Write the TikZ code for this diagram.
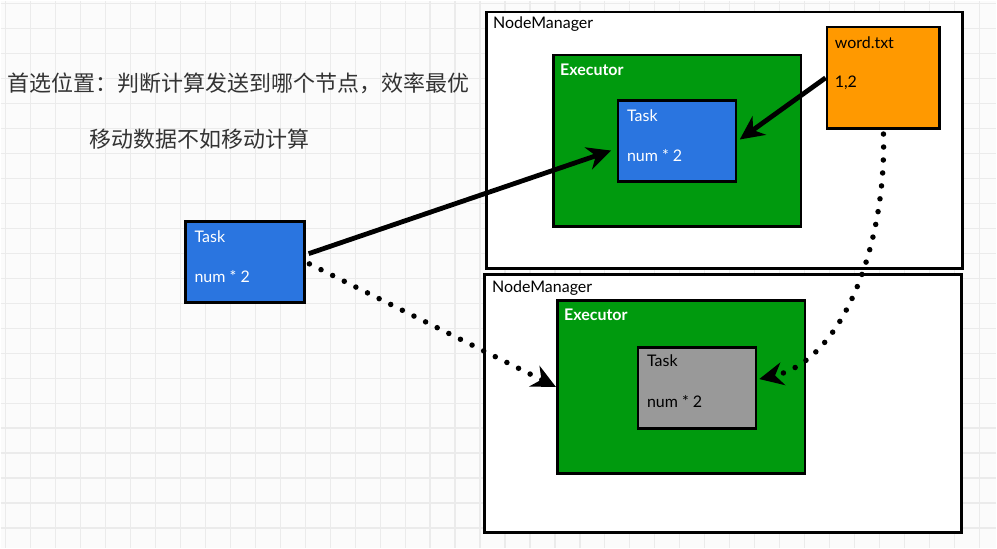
\documentclass[tikz,border=0pt]{standalone}
\usepackage{fontspec}
\setmainfont{Lato}
\newfontfamily\cjk{Noto Sans CJK SC}
\usetikzlibrary{arrows.meta}

\definecolor{taskblue}{HTML}{2A75E0}
\definecolor{execgreen}{HTML}{009A0E}
\definecolor{fileorange}{HTML}{FF9900}
\definecolor{taskgray}{HTML}{999999}
\definecolor{gridgray}{HTML}{EBEBEB}
\definecolor{paper}{HTML}{FBFBFB}

\tikzset{
  box/.style={draw=black, line width=2.6pt, anchor=north west, inner sep=0pt},
  boxtext/.style={anchor=west, inner sep=0pt, font=\fontsize{16}{18}\selectfont},
  flow/.style={line width=4.8pt, -{Stealth[length=24pt,width=23pt]}},
  dotflow/.style={line width=5.5pt, line cap=round, dash pattern=on 0pt off 13pt,
                  -{Stealth[length=24pt,width=23pt]}},
}

\begin{document}
\begin{tikzpicture}[x=1pt, y=-1pt]
  % Hintergrund mit Raster
  \fill[paper] (0,0) rectangle (997,548);
  \foreach \x in {5,30,...,995} \draw[gridgray, line width=1.2pt] (\x,0) -- (\x,548);
  \foreach \y in {3,28,...,548} \draw[gridgray, line width=1.2pt] (0,\y) -- (997,\y);
  \useasboundingbox (0,0) rectangle (997,548);

  % Beschreibung links oben
  \node[font=\cjk\fontsize{22}{26}\selectfont, color=black!80] (hint1) at (238,83) {首选位置：判断计算发送到哪个节点，效率最优};
  \node[font=\cjk\fontsize{22}{26}\selectfont, color=black!80] (hint2) at (199,139) {移动数据不如移动计算};

  % Oberer NodeManager
  \node[box, fill=white, minimum width=477pt, minimum height=257pt] (nmtop) at (485,10) {};
  \node[boxtext] (nmtoplabel) at (493,24) {NodeManager};
  \node[box, fill=execgreen, minimum width=248pt, minimum height=172pt] (exectop) at (552,53) {};
  \node[boxtext, text=white, font=\bfseries\fontsize{16}{18}\selectfont] (exectoplabel) at (560,69) {Executor};
  \node[box, fill=taskblue, minimum width=118pt, minimum height=81pt] (tasktop) at (617,99) {};
  \node[boxtext, text=white] (tasktoplabel) at (627,115) {Task};
  \node[boxtext, text=white] (tasktopcalc) at (627,155) {num * 2};
  \node[box, fill=fileorange, minimum width=113pt, minimum height=102pt] (wordfile) at (826,25) {};
  \node[boxtext] (wordfilelabel) at (835,42) {word.txt};
  \node[boxtext] (wordfiledata) at (835,82) {1,2};

  % Unterer NodeManager
  \node[box, fill=white, minimum width=478pt, minimum height=258pt] (nmbot) at (483,273) {};
  \node[boxtext] (nmbotlabel) at (492,288) {NodeManager};
  \node[box, fill=execgreen, minimum width=248pt, minimum height=173pt] (execbot) at (556,299) {};
  \node[boxtext, text=white, font=\bfseries\fontsize{16}{18}\selectfont] (execbotlabel) at (564,315) {Executor};
  \node[box, fill=taskgray, minimum width=118pt, minimum height=81pt] (taskbot) at (637,346) {};
  \node[boxtext] (taskbotlabel) at (647,361) {Task};
  \node[boxtext] (taskbotcalc) at (647,401) {num * 2};

  % Task, der verschickt wird
  \node[box, fill=taskblue, minimum width=119pt, minimum height=81pt] (tasksrc) at (184,220) {};
  \node[boxtext, text=white] (tasksrclabel) at (194,236) {Task};
  \node[boxtext, text=white] (tasksrccalc) at (194,276) {num * 2};

  % Pfeile
  \draw[flow, shorten <=3pt, shorten >=6pt] (tasksrc.7) -- (tasktop.187);
  \draw[flow, shorten >=3pt] (wordfile.west) -- (tasktop.east);
  \draw[dotflow, shorten <=4pt] (tasksrc.east) -- (execbot.west);
  \draw[dotflow, shorten <=4pt, shorten >=2pt] (wordfile.south) .. controls (887,240) and (845,360) .. (taskbot.8);
\end{tikzpicture}
\end{document}
